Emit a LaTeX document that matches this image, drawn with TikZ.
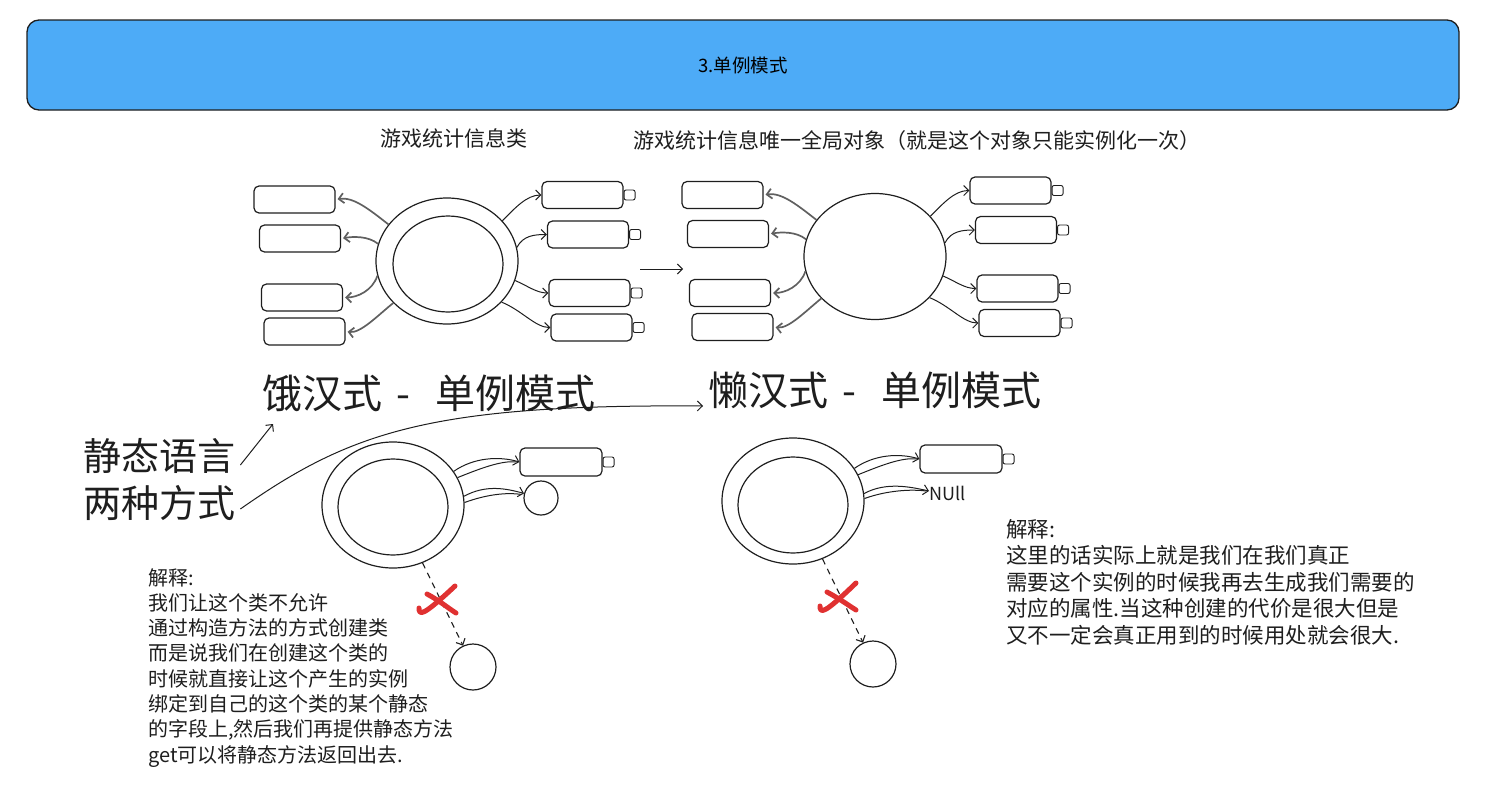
\documentclass[tikz,border=0pt]{standalone}
\usepackage{fontspec}
\setmainfont{Noto Sans CJK SC}
\usetikzlibrary{shapes.geometric,arrows.meta}
\definecolor{ink}{HTML}{1E1E1E}
\definecolor{hdr}{HTML}{4DABF7}
\definecolor{xred}{HTML}{E03131}
\definecolor{garrow}{HTML}{606060}
\begin{document}
\begin{tikzpicture}[x=1pt,y=-1pt,
 obj/.style={draw=ink, line width=1.2pt, rounded corners=5pt, minimum width=81pt, minimum height=27pt, inner sep=0pt},
 tab/.style={draw=ink, line width=0.9pt, rounded corners=2pt, minimum width=11pt, minimum height=10pt, inner sep=0pt, anchor=west},
 ell/.style={draw=ink, ellipse, line width=1.2pt, inner sep=0pt},
 rnd/.style={draw=ink, circle, line width=1.2pt, inner sep=0pt},
 garr/.style={draw=garrow, line width=1.7pt, -{Straight Barb[length=5pt,width=10pt]}, shorten >=2pt},
 barr/.style={draw=ink, line width=1pt, -{Straight Barb[length=5pt,width=10pt]}},
 pline/.style={draw=ink, line width=1pt},
 dasharr/.style={draw=ink, line width=1.1pt, dash pattern=on 6pt off 5pt, -{Straight Barb[length=5pt,width=10pt]}},
 xmark/.style={draw=xred, line width=5pt, line cap=round, line join=round},
 txt/.style={inner sep=0pt, text=ink, align=left},
]
\useasboundingbox (0,0) rectangle (1512,795);

% header
\node[draw=ink, line width=1.3pt, fill=hdr, rounded corners=12pt, minimum width=1432pt, minimum height=90pt, inner sep=0pt, font=\fontsize{18.5}{22}\selectfont] (hdr) at (743,65) {3.单例模式};

% captions
\node[txt, anchor=base west, font=\fontsize{21}{24}\selectfont] (cap1) at (380,146) {游戏统计信息类};
\node[txt, anchor=base west, font=\fontsize{21}{24}\selectfont] (cap2) at (633,148) {游戏统计信息唯一全局对象（就是这个对象只能实例化一次）};

% ---------- top-left diagram (eager) ----------
\node[ell, minimum width=142pt, minimum height=126pt] (e1o) at (447,261) {};
\node[ell, minimum width=110pt, minimum height=96pt] (e1i) at (448,264) {};
\node[obj] (a1) at (294.5,199.5) {};
\node[obj] (a2) at (300,238.5) {};
\node[obj] (a3) at (302,297.5) {};
\node[obj] (a4) at (304.5,331.5) {};
\node[obj] (b1) at (582.5,195) {}; \node[tab] (b1t) at (b1.east) {};
\node[obj] (b2) at (588,234.5) {}; \node[tab] (b2t) at (b2.east) {};
\node[obj] (b3) at (589.5,293) {}; \node[tab] (b3t) at (b3.east) {};
\node[obj] (b4) at (591.5,327.5) {}; \node[tab] (b4t) at (b4.east) {};
\draw[garr] (e1o.148) .. controls +(-18,-14) and +(18,-3) .. (a1.east);
\draw[garr] (e1o.166) .. controls +(-10,-8) and +(12,-2) .. (a2.east);
\draw[garr] (e1o.192) .. controls +(-5,15) and +(14,0) .. (a3.east);
\draw[garr] (e1o.218) .. controls +(-15,12) and +(15,2) .. (a4.east);
\draw[barr] (e1o.36) .. controls +(12,-12) and +(-15,0) .. (b1.west);
\draw[barr] (e1o.11) .. controls +(6,-12) and +(-12,0) .. (b2.west);
\draw[barr] (e1o.344) .. controls +(12,5) and +(-12,0) .. (b3.west);
\draw[barr] (e1o.323) .. controls +(20,8) and +(-15,0) .. (b4.west);

% middle arrow
\coordinate (m1) at (640,269);
\coordinate (m2) at (683,269);
\draw[barr] (m1) -- (m2);

% ---------- top-right diagram (lazy) ----------
\begin{scope}[shift={(428,-4.5)}]
\node[ell, minimum width=142pt, minimum height=126pt] (e2o) at (447,261) {};
\node[obj] (c1) at (294.5,199.5) {};
\node[obj] (c2) at (300,238.5) {};
\node[obj] (c3) at (302,297.5) {};
\node[obj] (c4) at (304.5,331.5) {};
\node[obj] (d1) at (582.5,195) {}; \node[tab] (d1t) at (d1.east) {};
\node[obj] (d2) at (588,234.5) {}; \node[tab] (d2t) at (d2.east) {};
\node[obj] (d3) at (589.5,293) {}; \node[tab] (d3t) at (d3.east) {};
\node[obj] (d4) at (591.5,327.5) {}; \node[tab] (d4t) at (d4.east) {};
\draw[garr] (e2o.148) .. controls +(-18,-14) and +(18,-3) .. (c1.east);
\draw[garr] (e2o.166) .. controls +(-10,-8) and +(12,-2) .. (c2.east);
\draw[garr] (e2o.192) .. controls +(-5,15) and +(14,0) .. (c3.east);
\draw[garr] (e2o.218) .. controls +(-15,12) and +(15,2) .. (c4.east);
\draw[barr] (e2o.36) .. controls +(12,-12) and +(-15,0) .. (d1.west);
\draw[barr] (e2o.11) .. controls +(6,-12) and +(-12,0) .. (d2.west);
\draw[barr] (e2o.344) .. controls +(12,5) and +(-12,0) .. (d3.west);
\draw[barr] (e2o.323) .. controls +(20,8) and +(-15,0) .. (d4.west);
\end{scope}

% big labels
\node[txt, anchor=base west, font=\fontsize{40}{48}\selectfont] (big1) at (262,408) {饿汉式\hspace{14pt}-\hspace{25pt}单例模式};
\node[txt, anchor=base west, font=\fontsize{40}{48}\selectfont] (big2) at (708,405) {懒汉式\hspace{14pt}-\hspace{25pt}单例模式};
\node[txt, anchor=base west, font=\fontsize{38}{46}\selectfont] (lang1) at (83,470.5) {静态语言};
\node[txt, anchor=base west, font=\fontsize{38}{46}\selectfont] (lang2) at (83,517.5) {两种方式};
\coordinate (t1) at (273,424);
\coordinate (t2) at (703,406);
\draw[barr] ([xshift=5pt,yshift=-9pt]lang1.east) -- (t1);
\draw[barr] ([xshift=5pt,yshift=-6pt]lang2.east) .. controls (350,432) and (430,404) .. (t2);

% ---------- bottom-left ----------
\node[ell, minimum width=142pt, minimum height=126pt] (e3o) at (393,505) {};
\node[ell, minimum width=110pt, minimum height=96pt] (e3i) at (393,507) {};
\node[obj, minimum width=82pt, minimum height=28pt] (g1) at (561,462) {}; \node[tab] (g1t) at (g1.east) {};
\node[rnd, minimum size=34pt] (k1) at (541,498) {};
\node[rnd, minimum size=46pt] (k2) at (473,667) {};
\draw[barr] (e3o.29) .. controls +(20,-14) and +(-20,-6) .. (g1.west);
\draw[pline] (e3o.23) .. controls +(20,-8) and +(-15,-2) .. ([xshift=-3pt]g1.west);
\draw[barr] (e3o.7) .. controls +(22,-12) and +(-18,-5) .. (k1.165);
\draw[pline] (e3o.2) .. controls +(22,-8) and +(-15,-2) .. ([xshift=-3pt]k1.168);
\draw[dasharr] (e3o.297) -- (k2.115);
\draw[xmark] (419,608) .. controls (419,616) and (423,616) .. (455,586);
\draw[xmark] (427,594) .. controls (440,601) and (448,608) .. (456,613);

% ---------- bottom-right ----------
\node[ell, minimum width=142pt, minimum height=126pt] (e4o) at (793,501) {};
\node[ell, minimum width=110pt, minimum height=96pt] (e4i) at (793,505) {};
\node[obj, minimum width=82pt, minimum height=28pt] (g2) at (961,459) {}; \node[tab] (g2t) at (g2.east) {};
\node[txt, anchor=west, font=\fontsize{18}{20}\selectfont] (nul) at (929,493) {NUll};
\node[rnd, minimum size=46pt] (k4) at (873,664) {};
\draw[barr] (e4o.28) .. controls +(20,-14) and +(-20,-6) .. (g2.west);
\draw[pline] (e4o.22) .. controls +(20,-8) and +(-15,-2) .. ([xshift=-3pt]g2.west);
\draw[barr] (e4o.6) .. controls +(22,-12) and +(-18,-4) .. ([yshift=2pt]nul.west);
\draw[pline] (e4o.2) .. controls +(22,-8) and +(-15,-2) .. ([xshift=-3pt,yshift=2pt]nul.west);
\draw[dasharr] (e4o.297) -- (k4.115);
\draw[xmark] (820,606) .. controls (820,614) and (824,614) .. (856,583);
\draw[xmark] (827,592) .. controls (840,599) and (848,605) .. (856,610);

% explanations
\node[txt, anchor=north west, font=\fontsize{20}{25.3}\selectfont] (expl1) at (148,568) {解释:\\我们让这个类不允许\\通过构造方法的方式创建类\\而是说我们在创建这个类的\\时候就直接让这个产生的实例\\绑定到自己的这个类的某个静态\\的字段上,然后我们再提供静态方法\\get可以将静态方法返回出去.};
\node[txt, anchor=north west, font=\fontsize{21.5}{26.5}\selectfont] (expl2) at (1006,519) {解释:\\这里的话实际上就是我们在我们真正\\需要这个实例的时候我再去生成我们需要的\\对应的属性.当这种创建的代价是很大但是\\又不一定会真正用到的时候用处就会很大.};
\end{tikzpicture}
\end{document}
